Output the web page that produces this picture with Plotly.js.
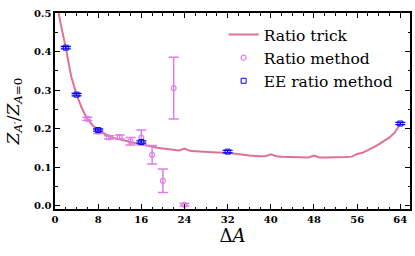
<!DOCTYPE html>
<html><head><meta charset="utf-8">
<script src="https://cdn.plot.ly/plotly-3.0.1.min.js"></script>
<style>html,body{margin:0;padding:0;background:#fff}</style>
</head><body>
<div id="chart" style="width:415px;height:256px"></div>
<script>
// Ratio trick curve
const trickX = [0.5,1,2,3,4,5,6,7,8,9,10,11,12,13,14,15,16,17,18,19,20,21,22,23,24,25,26,28,30,32,34,36,38,39,40,41,42,44,46,47,48,49,50,52,54,55,56,57,58,59,60,61,62,63,64];
const trickY = [0.515,0.475,0.41,0.335,0.288,0.252,0.225,0.208,0.196,0.187,0.18,0.175,0.171,0.168,0.165,0.162,0.16,0.156,0.152,0.15,0.148,0.146,0.144,0.143,0.148,0.142,0.141,0.139,0.138,0.137,0.133,0.130,0.128,0.128,0.133,0.128,0.127,0.126,0.125,0.125,0.130,0.125,0.125,0.125,0.126,0.127,0.134,0.137,0.143,0.151,0.159,0.167,0.177,0.19,0.212];
// Ratio method
const ratioX = [6,8,10,12,14,16,18,20,22,24];
const ratioY = [0.225,0.192,0.177,0.178,0.167,0.1765,0.132,0.0645,0.305,0.002];
const ratioErr = [0.004,0.005,0.004,0.005,0.010,0.0195,0.024,0.0305,0.080,0.003];
// EE ratio method
const eeX = [2,4,8,16,32,64];
const eeY = [0.41,0.288,0.196,0.165,0.140,0.213];
const eeErr = [0.003,0.003,0.003,0.003,0.003,0.003];

const pink = '#df7294', violet = '#dc7ee6', blue = '#0000ff';
const traces = [
  {x: trickX, y: trickY, mode: 'lines', name: 'Ratio trick', line: {color: pink, width: 2}},
  {x: ratioX, y: ratioY, mode: 'markers', name: 'Ratio method',
   marker: {symbol: 'circle-open', size: 5, color: violet, line: {width: 1.2, color: violet}},
   error_y: {type: 'data', array: ratioErr, visible: true, color: violet, thickness: 1.5, width: 5}},
  {x: eeX, y: eeY, mode: 'markers', name: 'EE ratio method',
   marker: {symbol: 'square-open', size: 5, color: blue, line: {width: 1, color: blue}},
   error_y: {type: 'data', array: eeErr, visible: true, color: blue, thickness: 1.3, width: 5}}
];
const tickFont = {family: 'DejaVu Serif', size: 10, color: '#000', weight: 'bold'};
const layout = {
  width: 415, height: 256,
  margin: {l: 55, r: 5, t: 13, b: 47},
  paper_bgcolor: '#fff', plot_bgcolor: '#fff',
  showlegend: true,
  legend: {x: 0.475, y: 0.975, xanchor: 'left', yanchor: 'top', bgcolor: 'rgba(0,0,0,0)',
           font: {family: 'DejaVu Serif', size: 15.5, color: '#000'}, tracegroupgap: 0},
  xaxis: {range: [0, 65.8], tickvals: [0,8,16,24,32,40,48,56,64], ticktext: ['0','8','16','24','32','40','48','56','64'],
          ticks: 'inside', ticklen: 5, tickwidth: 1, tickcolor: '#000', mirror: 'allticks',
          showline: true, linecolor: '#000', linewidth: 1.6, showgrid: false, zeroline: false,
          minor: {dtick: 2, tick0: 0, ticks: 'inside', ticklen: 2.5, tickcolor: '#000', showgrid: false},
          tickfont: tickFont,
          title: {text: 'Δ<i>A</i>', font: {family: 'DejaVu Serif', size: 18, color: '#000'}, standoff: 4}},
  yaxis: {range: [-0.009, 0.5], tickvals: [0,0.1,0.2,0.3,0.4,0.5], ticktext: ['0.0','0.1','0.2','0.3','0.4','0.5'],
          ticks: 'inside', ticklen: 5, tickwidth: 1, tickcolor: '#000', mirror: 'allticks',
          showline: true, linecolor: '#000', linewidth: 1.6, showgrid: false, zeroline: false,
          minor: {dtick: 0.05, tick0: 0, ticks: 'inside', ticklen: 2.5, tickcolor: '#000', showgrid: false},
          tickfont: tickFont,
          title: {text: '<i>Z</i><sub><i>A′</i></sub>/<i>Z</i><sub><i>A</i>=0</sub>', font: {family: 'DejaVu Serif', size: 17, color: '#000'}, standoff: 10}}
};
Plotly.newPlot('chart', traces, layout, {displayModeBar: false, staticPlot: true});
</script>
</body></html>
